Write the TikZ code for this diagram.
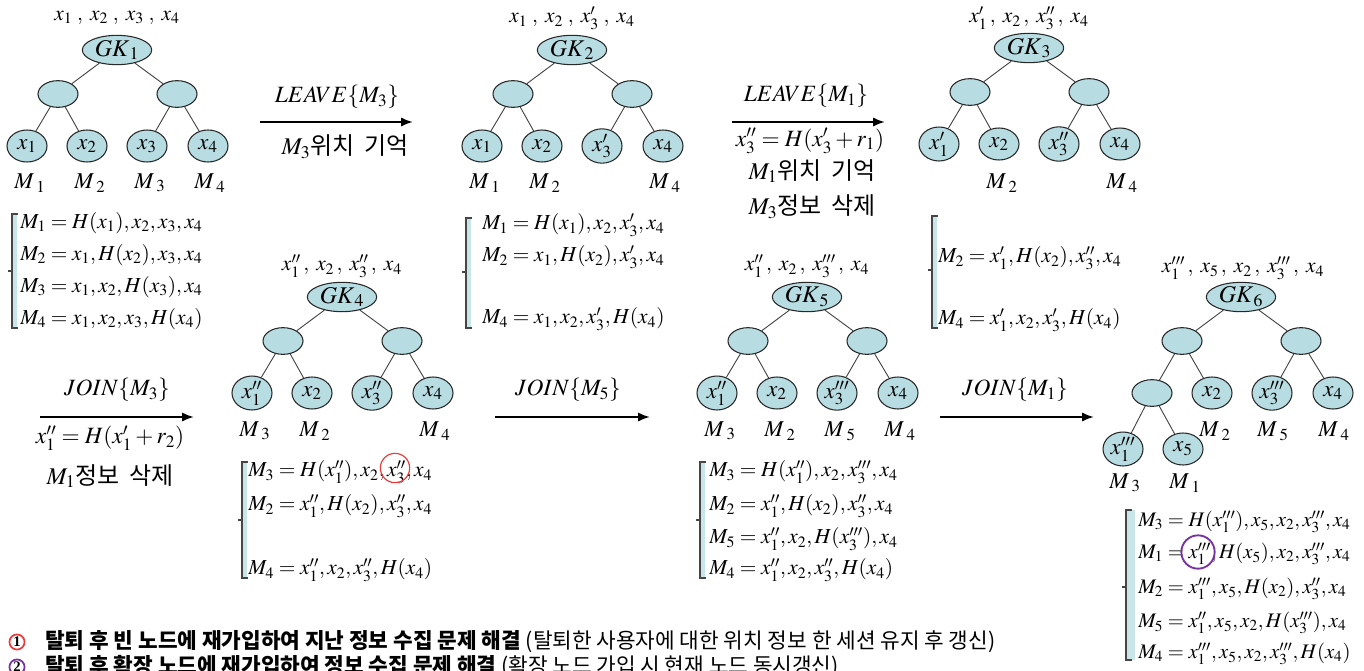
\documentclass[tikz,border=0pt]{standalone}
\usepackage{mathptmx}
\usepackage[no-math]{fontspec}
\setmainfont{Liberation Serif}
\newfontfamily\kr{Noto Sans CJK KR}
\usetikzlibrary{shapes.geometric,arrows.meta}
\definecolor{nodefill}{RGB}{183,221,226}
\definecolor{edgec}{RGB}{40,40,40}
\definecolor{linec}{RGB}{70,70,70}
\definecolor{brk}{RGB}{70,70,70}
\definecolor{brkfill}{RGB}{200,230,233}
\definecolor{circA}{RGB}{235,60,60}
\definecolor{circB}{RGB}{120,50,160}
\begin{document}
\begin{tikzpicture}[x=0.75pt,y=-0.75pt,
  leaf/.style={ellipse, draw=edgec, line width=0.8pt, fill=nodefill, minimum width=30pt, minimum height=24pt, inner sep=0pt, font=\fontsize{17}{17}\selectfont},
  innernode/.style={leaf, minimum height=20pt},
  rootnode/.style={leaf, minimum width=52pt, minimum height=22pt, font=\fontsize{18}{18}\selectfont},
  link/.style={draw=linec, line width=0.7pt},
  mlbl/.style={font=\fontsize{17}{17}\selectfont, inner sep=0pt},
  toplbl/.style={font=\fontsize{16}{16}\selectfont, inner sep=0pt},
  eqn/.style={font=\fontsize{16}{16}\selectfont, anchor=west, inner sep=0pt},
  eqnsm/.style={eqn, font=\fontsize{15.5}{15.5}\selectfont},
  arr/.style={line width=1.6pt, -{Latex[length=9pt,width=7pt]}},
  arrlbl/.style={font=\fontsize{17.5}{17.5}\selectfont, inner sep=0pt},
  krlbl/.style={font=\kr\fontsize{18}{18}\selectfont, inner sep=0pt},
  legend/.style={font=\kr\fontsize{16}{16}\selectfont, anchor=west, inner sep=0pt},
  brkline/.style={draw=brk, line width=1.2pt},
  brkstrip/.style={fill=brkfill, draw=none}
]
\useasboundingbox (0,0) rectangle (1364,671);
\clip (0,0) rectangle (1364,671);

% ---------- Tree 1 ----------
\begin{scope}
\node[toplbl] (t1top) at (117,18) {$x_1\;,\;x_2\;,\;x_3\;,\;x_4$};
\node[rootnode] (t1r) at (117,50) {$GK_{\,1}$};
\node[innernode] (t1a) at (58,94) {};
\node[innernode] (t1b) at (177,94) {};
\node[leaf] (t1l1) at (27,146) {$x_1$};
\node[leaf] (t1l2) at (87,146) {$x_2$};
\node[leaf] (t1l3) at (147,146) {$x_3$};
\node[leaf] (t1l4) at (208,146) {$x_4$};
\draw[link] (t1r) -- (t1a); \draw[link] (t1r) -- (t1b);
\draw[link] (t1a) -- (t1l1); \draw[link] (t1a) -- (t1l2);
\draw[link] (t1b) -- (t1l3); \draw[link] (t1b) -- (t1l4);
\node[mlbl] (t1m1) at (30,183) {$M_{\;1}$};
\node[mlbl] (t1m2) at (90,183) {$M_{\;2}$};
\node[mlbl] (t1m3) at (150,183) {$M_{\;3}$};
\node[mlbl] (t1m4) at (210,183) {$M_{\;4}$};
\end{scope}

% ---------- Tree 2 ----------
\begin{scope}[shift={(455,0)}]
\node[toplbl] (t2top) at (117,18) {$x_1\;,\;x_2\;,\;x_3'\;,\;x_4$};
\node[rootnode] (t2r) at (117,50) {$GK_{\,2}$};
\node[innernode] (t2a) at (58,94) {};
\node[innernode] (t2b) at (177,94) {};
\node[leaf] (t2l1) at (27,146) {$x_1$};
\node[leaf] (t2l2) at (87,146) {$x_2$};
\node[leaf] (t2l3) at (147,146) {$x_3'$};
\node[leaf] (t2l4) at (208,146) {$x_4$};
\draw[link] (t2r) -- (t2a); \draw[link] (t2r) -- (t2b);
\draw[link] (t2a) -- (t2l1); \draw[link] (t2a) -- (t2l2);
\draw[link] (t2b) -- (t2l3); \draw[link] (t2b) -- (t2l4);
\node[mlbl] (t2m1) at (30,183) {$M_{\;1}$};
\node[mlbl] (t2m2) at (90,183) {$M_{\;2}$};
\node[mlbl] (t2m4) at (210,183) {$M_{\;4}$};
\end{scope}

% ---------- Tree 3 ----------
\begin{scope}[shift={(912,-2)}]
\node[toplbl] (t3top) at (117,20) {$x_1'\,,\;x_2\,,\;x_3''\,,\;x_4$};
\node[rootnode] (t3r) at (117,50) {$GK_{\,3}$};
\node[innernode] (t3a) at (58,94) {};
\node[innernode] (t3b) at (177,94) {};
\node[leaf] (t3l1) at (27,146) {$x_1'$};
\node[leaf] (t3l2) at (87,146) {$x_2$};
\node[leaf] (t3l3) at (147,146) {$x_3''$};
\node[leaf] (t3l4) at (208,146) {$x_4$};
\draw[link] (t3r) -- (t3a); \draw[link] (t3r) -- (t3b);
\draw[link] (t3a) -- (t3l1); \draw[link] (t3a) -- (t3l2);
\draw[link] (t3b) -- (t3l3); \draw[link] (t3b) -- (t3l4);
\node[mlbl] (t3m2) at (90,185) {$M_{\;2}$};
\node[mlbl] (t3m4) at (210,185) {$M_{\;4}$};
\end{scope}

% ---------- Tree 4 ----------
\begin{scope}[shift={(225,247)}]
\node[toplbl] (t4top) at (117,19) {$x_1''\,,\;x_2\,,\;x_3''\,,\;x_4$};
\node[rootnode] (t4r) at (117,50) {$GK_{\,4}$};
\node[innernode] (t4a) at (58,94) {};
\node[innernode] (t4b) at (177,94) {};
\node[leaf] (t4l1) at (27,146) {$x_1''$};
\node[leaf] (t4l2) at (87,146) {$x_2$};
\node[leaf] (t4l3) at (147,146) {$x_3''$};
\node[leaf] (t4l4) at (208,146) {$x_4$};
\draw[link] (t4r) -- (t4a); \draw[link] (t4r) -- (t4b);
\draw[link] (t4a) -- (t4l1); \draw[link] (t4a) -- (t4l2);
\draw[link] (t4b) -- (t4l3); \draw[link] (t4b) -- (t4l4);
\node[mlbl] (t4m1) at (30,184) {$M_{\;3}$};
\node[mlbl] (t4m2) at (90,184) {$M_{\;2}$};
\node[mlbl] (t4m4) at (210,184) {$M_{\;4}$};
\end{scope}

% ---------- Tree 5 ----------
\begin{scope}[shift={(690,247)}]
\node[toplbl] (t5top) at (117,19) {$x_1''\,,\;x_2\,,\;x_3'''\,,\;x_4$};
\node[rootnode] (t5r) at (117,50) {$GK_{\,5}$};
\node[innernode] (t5a) at (58,94) {};
\node[innernode] (t5b) at (177,94) {};
\node[leaf] (t5l1) at (27,146) {$x_1''$};
\node[leaf] (t5l2) at (87,146) {$x_2$};
\node[leaf] (t5l3) at (147,146) {$x_3'''$};
\node[leaf] (t5l4) at (208,146) {$x_4$};
\draw[link] (t5r) -- (t5a); \draw[link] (t5r) -- (t5b);
\draw[link] (t5a) -- (t5l1); \draw[link] (t5a) -- (t5l2);
\draw[link] (t5b) -- (t5l3); \draw[link] (t5b) -- (t5l4);
\node[mlbl] (t5m1) at (30,184) {$M_{\;3}$};
\node[mlbl] (t5m2) at (90,184) {$M_{\;2}$};
\node[mlbl] (t5m3) at (150,184) {$M_{\;5}$};
\node[mlbl] (t5m4) at (210,184) {$M_{\;4}$};
\end{scope}

% ---------- Tree 6 ----------
\begin{scope}[shift={(1124,247)}]
\node[toplbl] (t6top) at (119,21) {$x_1'''\,,\;x_5\,,\;x_2\,,\;x_3'''\,,\;x_4$};
\node[rootnode] (t6r) at (117,50) {$GK_{\,6}$};
\node[innernode] (t6a) at (58,94) {};
\node[innernode] (t6b) at (177,94) {};
\node[innernode] (t6c) at (28,146) {};
\node[leaf] (t6l2) at (88,146) {$x_2$};
\node[leaf] (t6l3) at (148,146) {$x_3'''$};
\node[leaf] (t6l4) at (209,146) {$x_4$};
\node[leaf] (t6l5) at (-1,202) {$x_1'''$};
\node[leaf] (t6l6) at (59,202) {$x_5$};
\draw[link] (t6r) -- (t6a); \draw[link] (t6r) -- (t6b);
\draw[link] (t6a) -- (t6c); \draw[link] (t6a) -- (t6l2);
\draw[link] (t6b) -- (t6l3); \draw[link] (t6b) -- (t6l4);
\draw[link] (t6c) -- (t6l5); \draw[link] (t6c) -- (t6l6);
\node[mlbl] (t6m2) at (91,184) {$M_{\;2}$};
\node[mlbl] (t6m5) at (149,184) {$M_{\;5}$};
\node[mlbl] (t6m4) at (210,184) {$M_{\;4}$};
\node[mlbl] (t6m3) at (1,236) {$M_{\;3}$};
\node[mlbl] (t6m1) at (61,236) {$M_{\;1}$};
\end{scope}

% ---------- Brackets ----------
\fill[brkstrip] (13,214) rectangle (17,328);
\draw[brkline] (18,214) -- (12,214) -- (12,328) -- (18,328);
\draw[brkline] (12,271) -- (8,271);
\fill[brkstrip] (467,218) rectangle (471,328);
\draw[brkline] (472,218) -- (466,218) -- (466,328) -- (472,328);
\draw[brkline] (466,272) -- (462,272);
\fill[brkstrip] (933,216) rectangle (937,328);
\draw[brkline] (938,216) -- (932,216) -- (932,328) -- (938,328);
\draw[brkline] (932,270) -- (928,270);
\fill[brkstrip] (243,462) rectangle (247,578);
\draw[brkline] (248,462) -- (242,462) -- (242,578) -- (248,578);
\draw[brkline] (242,520) -- (238,520);
\fill[brkstrip] (701,462) rectangle (705,578);
\draw[brkline] (706,462) -- (700,462) -- (700,578) -- (706,578);
\draw[brkline] (700,520) -- (696,520);
\fill[brkstrip] (1127,510) rectangle (1135,660);
\draw[brkline] (1132,510) -- (1126,510) -- (1126,660) -- (1132,660);
\draw[brkline] (1126,587) -- (1122,587);

% ---------- Equations ----------
\node[eqn] (e11) at (20,223) {$M_1 = H(x_1), x_2, x_3, x_4$};
\node[eqn] (e12) at (20,255) {$M_2 = x_1, H(x_2), x_3, x_4$};
\node[eqn] (e13) at (20,287) {$M_3 = x_1, x_2, H(x_3), x_4$};
\node[eqn] (e14) at (20,319) {$M_4 = x_1, x_2, x_3, H(x_4)$};

\node[eqn] (e21) at (482,225) {$M_1 = H(x_1), x_2, x_3', x_4$};
\node[eqn] (e22) at (482,257) {$M_2 = x_1, H(x_2), x_3', x_4$};
\node[eqn] (e24) at (482,319) {$M_4 = x_1, x_2, x_3', H(x_4)$};

\node[eqn] (e32) at (938,258) {$M_2 = x_1', H(x_2), x_3'', x_4$};
\node[eqn] (e34) at (938,320) {$M_4 = x_1', x_2, x_3', H(x_4)$};

\node[eqn] (e41) at (248,472) {$M_3 = H(x_1''), x_2, x_3'', x_4$};
\node[eqn] (e42) at (248,506) {$M_2 = x_1'', H(x_2), x_3'', x_4$};
\node[eqn] (e44) at (248,570) {$M_4 = x_1'', x_2, x_3'', H(x_4)$};

\node[eqn] (e51) at (709,472) {$M_3 = H(x_1''), x_2, x_3''', x_4$};
\node[eqn] (e52) at (709,506) {$M_2 = x_1'', H(x_2), x_3'', x_4$};
\node[eqn] (e53) at (709,539) {$M_5 = x_1'', x_2, H(x_3'''), x_4$};
\node[eqn] (e54) at (709,570) {$M_4 = x_1'', x_2, x_3'', H(x_4)$};

\node[eqnsm] (e61) at (1138,522) {$M_3 = H(x_1'''), x_5, x_2, x_3''', x_4$};
\node[eqnsm] (e62) at (1138,554) {$M_1 = x_1''', H(x_5), x_2, x_3''', x_4$};
\node[eqnsm] (e63) at (1138,589) {$M_2 = x_1''', x_5, H(x_2), x_3'', x_4$};
\node[eqnsm] (e64) at (1138,623) {$M_5 = x_1'', x_5, x_2, H(x_3'''), x_4$};
\node[eqnsm] (e65) at (1138,654) {$M_4 = x_1''', x_5, x_2, x_3''', H(x_4)$};

% ---------- Highlight circles ----------
\node[circle, draw=circA, line width=0.9pt, minimum size=22pt, inner sep=0pt] (hc1) at (395,468) {};
\node[circle, draw=circB, line width=1.4pt, minimum size=25pt, inner sep=0pt] (hc2) at (1198,552) {};

% ---------- Arrows ----------
\coordinate (a1s) at (260,122); \coordinate (a1e) at (413,122);
\draw[arr] (a1s) -- (a1e);
\node[arrlbl] (a1t) at (337,97) {$LEAVE\{M_3\}$};
\node[krlbl] (a1b) at (345,147) {$M_3$위치\hspace{0.4em}기억};

\coordinate (a2s) at (732,122); \coordinate (a2e) at (885,122);
\draw[arr] (a2s) -- (a2e);
\node[arrlbl] (a2t) at (806,96) {$LEAVE\{M_1\}$};
\node[arrlbl] (a2b) at (810,141) {$x_3'' = H(x_3' + r_1)$};
\node[krlbl] (a2c) at (812,171) {$M_1$위치\hspace{0.4em}기억};
\node[krlbl] (a2d) at (812,207) {$M_3$정보\hspace{0.4em}삭제};

\coordinate (a3s) at (40,417); \coordinate (a3e) at (194,417);
\draw[arr] (a3s) -- (a3e);
\node[arrlbl] (a3t) at (117,390) {$JOIN\{M_3\}$};
\node[arrlbl] (a3b) at (110,438) {$x_1'' = H(x_1' + r_2)$};
\node[krlbl] (a3c) at (110,476) {$M_1$정보\hspace{0.4em}삭제};

\coordinate (a4s) at (495,417); \coordinate (a4e) at (650,417);
\draw[arr] (a4s) -- (a4e);
\node[arrlbl] (a4t) at (568,390) {$JOIN\{M_5\}$};

\coordinate (a5s) at (940,417); \coordinate (a5e) at (1094,417);
\draw[arr] (a5s) -- (a5e);
\node[arrlbl] (a5t) at (1015,390) {$JOIN\{M_1\}$};

% ---------- Legend ----------
\node[circle, draw=circA, line width=1.3pt, inner sep=0.8pt, font=\fontsize{11}{11}\selectfont\bfseries] (lg1) at (17,642) {1};
\node[legend] (lt1) at (45,642) {{\bfseries 탈퇴 후 빈 노드에 재가입하여 지난 정보 수집 문제 해결} (탈퇴한 사용자에 대한 위치 정보 한 세션 유지 후 갱신)};
\node[circle, draw=circB, line width=1.3pt, inner sep=0.8pt, font=\fontsize{11}{11}\selectfont\bfseries] (lg2) at (17,667) {2};
\node[legend] (lt2) at (45,667) {{\bfseries 탈퇴 후 확장 노드에 재가입하여 정보 수집 문제 해결} (확장 노드 가입 시 현재 노드 동시갱신)};
\end{tikzpicture}
\end{document}
